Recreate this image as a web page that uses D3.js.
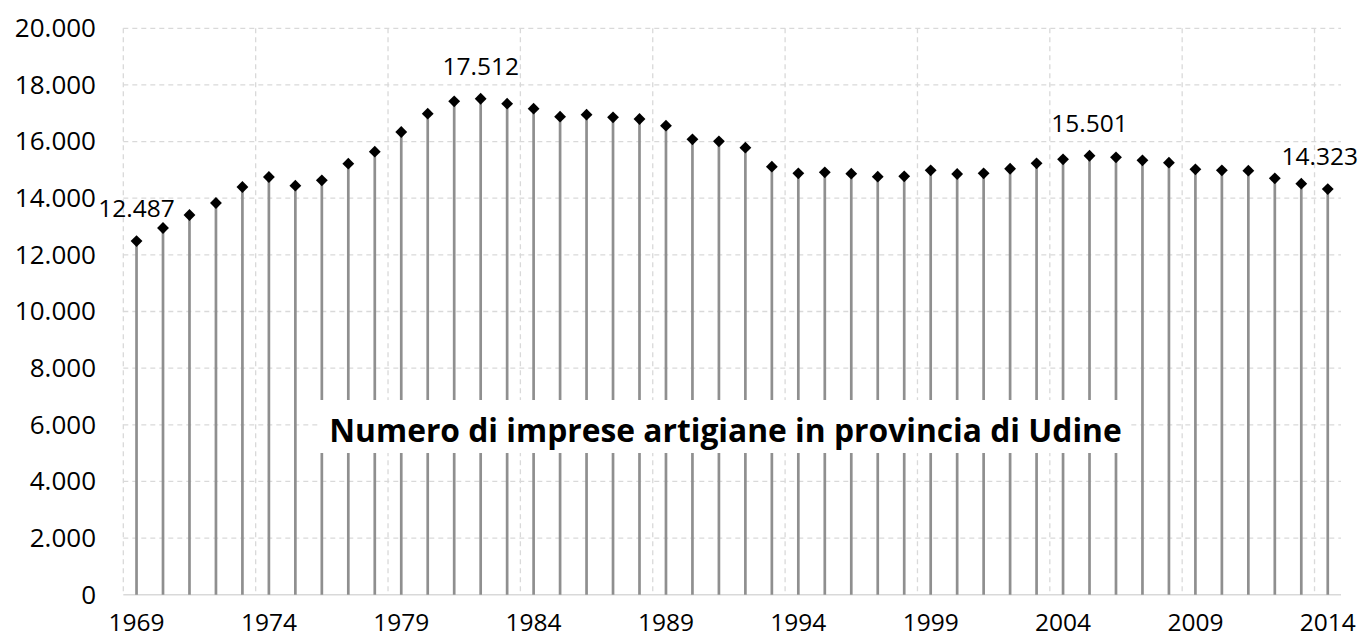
<!DOCTYPE html>
<html>
<head>
<meta charset="utf-8">
<script src="https://cdn.jsdelivr.net/npm/d3@7"></script>
<style>
  html, body { margin: 0; padding: 0; background: #fff; }
  svg { display: block; }
  text { font-family: "Open Sans", sans-serif; fill: #000; }
</style>
</head>
<body>
<svg id="chart" width="1360" height="640"></svg>
<script>
const years = [1969,1970,1971,1972,1973,1974,1975,1976,1977,1978,1979,1980,1981,1982,1983,1984,1985,1986,1987,1988,1989,1990,1991,1992,1993,1994,1995,1996,1997,1998,1999,2000,2001,2002,2003,2004,2005,2006,2007,2008,2009,2010,2011,2012,2013,2014];
const imprese = [12487,12948,13407,13831,14396,14749,14442,14632,15219,15643,16338,16985,17422,17512,17338,17161,16879,16949,16857,16797,16561,16080,16010,15784,15113,14880,14915,14866,14760,14774,14986,14855,14880,15042,15233,15374,15501,15445,15339,15254,15021,14986,14972,14703,14513,14323];
const yTicks = [0,2000,4000,6000,8000,10000,12000,14000,16000,18000,20000];
const xTickYears = [1969,1974,1979,1984,1989,1994,1999,2004,2009,2014];
const labelledYears = [1969,1982,2005,2014];
const title = "Numero di imprese artigiane in provincia di Udine";

const svg = d3.select("#chart");
const pLeft = 123.3, pRight = 1341, pTop = 28.3, pBottom = 594.7;
const FONT = "Open Sans";
const FS = 24.5;
const FSY = 26;

const x = d3.scaleBand().domain(years).range([pLeft, pRight]).padding(0);
const y = d3.scaleLinear().domain([0, 20000]).range([pBottom, pTop]);
const fmt = v => d3.format(",")(v).replace(/,/g, ".");

const grid = svg.append("g");
grid.selectAll("line.h").data(yTicks.filter(d => d > 0)).join("line")
  .attr("x1", pLeft).attr("x2", pRight)
  .attr("y1", d => y(d)).attr("y2", d => y(d))
  .attr("stroke", "#d9d9d9").attr("stroke-width", 1.3)
  .attr("stroke-dasharray", "5,4");
grid.selectAll("line.v").data(xTickYears).join("line")
  .attr("x1", d => x(d)).attr("x2", d => x(d))
  .attr("y1", pTop).attr("y2", pBottom)
  .attr("stroke", "#d9d9d9").attr("stroke-width", 1.3)
  .attr("stroke-dasharray", "5,4");
svg.append("line")
  .attr("x1", pLeft).attr("x2", pRight)
  .attr("y1", y(0)).attr("y2", y(0))
  .attr("stroke", "#d9d9d9").attr("stroke-width", 1.5);

const yAxis = d3.axisLeft(y).tickValues(yTicks).tickFormat(fmt).tickSize(0).tickPadding(0);
const yg = svg.append("g").attr("transform", "translate(96,0)").call(yAxis);
yg.select(".domain").remove();
yg.selectAll("text").attr("font-size", FSY).attr("font-family", FONT).attr("fill", "#000").attr("dy", "0.32em");

const xAxis = d3.axisBottom(x).tickValues(xTickYears).tickSize(0).tickPadding(0);
const xg = svg.append("g").attr("transform", `translate(0,${pBottom + 19})`).call(xAxis);
xg.select(".domain").remove();
xg.selectAll("text").attr("font-size", FS).attr("font-family", FONT).attr("fill", "#000").attr("dy", "0.71em");

const cx = d => x(d) + x.bandwidth() / 2;

svg.append("g").selectAll("line").data(years).join("line")
  .attr("x1", d => cx(d)).attr("x2", d => cx(d))
  .attr("y1", y(0)).attr("y2", (d, i) => y(imprese[i]))
  .attr("stroke", "#8f8f8f").attr("stroke-width", 2.7);

const diamond = d3.symbol().type(d3.symbolSquare).size(70);
svg.append("g").selectAll("path").data(years).join("path")
  .attr("d", diamond)
  .attr("transform", (d, i) => `translate(${cx(d)},${y(imprese[i])}) rotate(45)`)
  .attr("fill", "#000");

const tg = svg.append("g");
const tbox = tg.append("rect").attr("fill", "#fff");
const ttext = tg.append("text")
  .attr("x", 725.5).attr("y", 429)
  .attr("text-anchor", "middle").attr("dominant-baseline", "central")
  .attr("font-family", FONT)
  .attr("font-weight", "bold").attr("font-size", 30)
  .text(title);
const targetW = 793;
const w0 = ttext.node().getComputedTextLength();
ttext.attr("font-size", 30 * targetW / w0);
tbox.attr("x", 318).attr("y", 400).attr("width", 812).attr("height", 53);

svg.append("g").selectAll("text").data(labelledYears).join("text")
  .attr("x", d => cx(d))
  .attr("y", d => y(imprese[years.indexOf(d)]) - 24)
  .attr("text-anchor", "middle")
  .attr("font-family", FONT)
  .attr("font-size", FS)
  .text(d => fmt(imprese[years.indexOf(d)]))
  .each(function() {
    const bb = this.getBBox();
    if (bb.x + bb.width > 1358) d3.select(this).attr("x", +d3.select(this).attr("x") - (bb.x + bb.width - 1358));
  });
</script>
</body>
</html>
